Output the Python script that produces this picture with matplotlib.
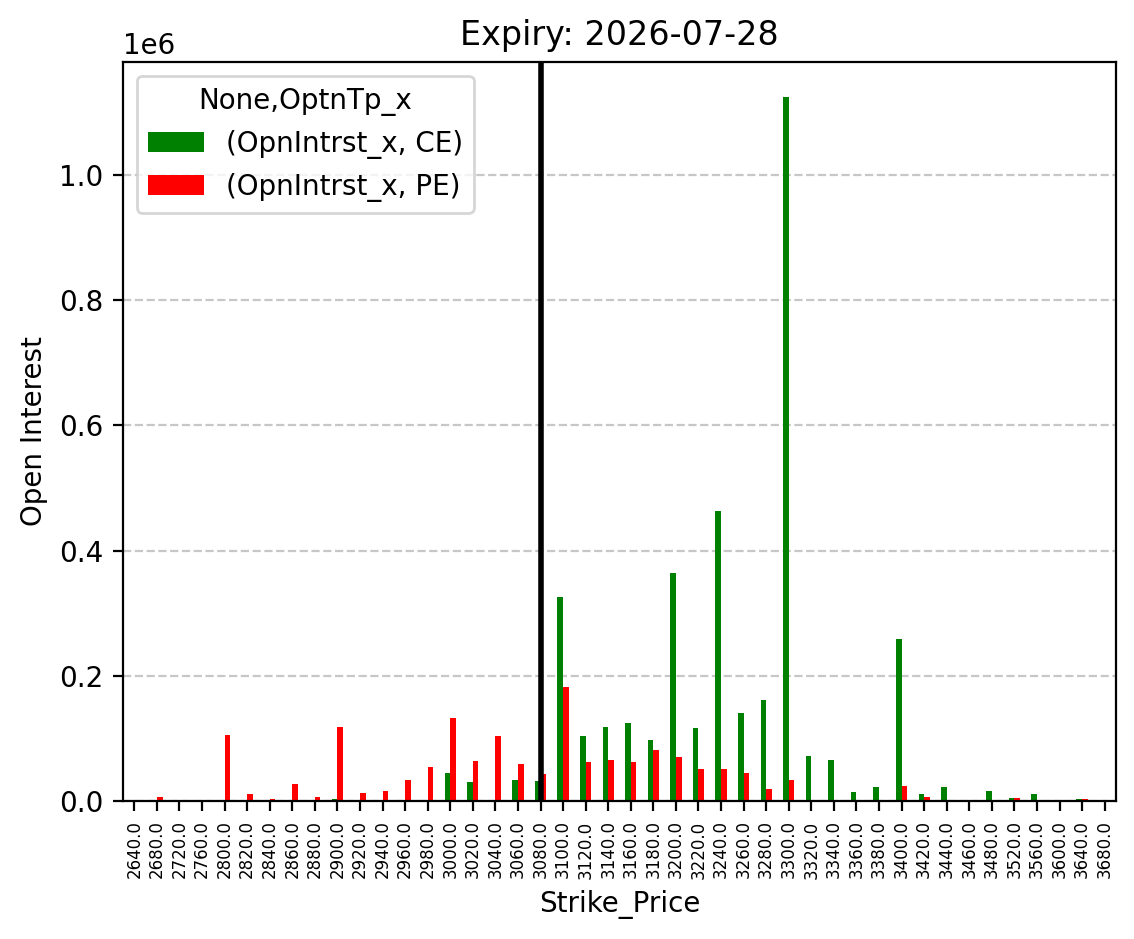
import matplotlib
matplotlib.use("Agg")
import matplotlib.pyplot as plt
import numpy as np

strikes = [2640, 2680, 2720, 2760, 2800, 2820, 2840, 2860, 2880, 2900, 2920, 2940,
           2960, 2980, 3000, 3020, 3040, 3060, 3080, 3100, 3120, 3140, 3160, 3180,
           3200, 3220, 3240, 3260, 3280, 3300, 3320, 3340, 3360, 3380, 3400, 3420,
           3440, 3460, 3480, 3520, 3560, 3600, 3640, 3680]

ce_oi = [0, 0, 0, 0, 0, 0, 0, 0, 0, 3000, 0, 0,
         0, 0, 45000, 30000, 0, 34000, 32000, 326000, 104000, 118000, 125000, 97000,
         364000, 117000, 463000, 141000, 161000, 1124000, 72000, 65000, 14000, 22000, 259000, 11000,
         22000, 0, 16000, 5000, 11000, 0, 3000, 0]

pe_oi = [0, 6000, 0, 0, 105000, 11000, 3000, 27000, 6000, 118000, 13000, 16000,
         34000, 54000, 132000, 64000, 104000, 59000, 43000, 182000, 62000, 65000, 62000, 81000,
         70000, 51000, 51000, 45000, 19000, 34000, 0, 0, 0, 0, 24000, 6000,
         0, 0, 0, 5000, 0, 0, 3000, 0]

spot_strike = 3080
labels = ["(OpnIntrst_x, CE)", "(OpnIntrst_x, PE)"]

fig = plt.figure(figsize=(5.67, 4.695), dpi=200)
ax = fig.add_axes([0.1085, 0.147, 0.8756, 0.787])

x = np.arange(len(strikes))
w = 0.25
ax.bar(x - w / 2, ce_oi, width=w, color="green", label=labels[0])
ax.bar(x + w / 2, pe_oi, width=w, color="red", label=labels[1])
ax.set_xlim(-0.5, len(strikes) - 0.5)
ax.set_xticks(x)
ax.set_xticklabels([f"{float(s):.1f}" for s in strikes], rotation=90, fontsize=6)

ax.axvline(strikes.index(spot_strike), color="black", linewidth=2)
ax.grid(axis="y", linestyle="--", alpha=0.7)
ax.set_axisbelow(True)

ax.set_title("Expiry: 2026-07-28", fontsize=12)
ax.set_xlabel("Strike_Price")
ax.set_ylabel("Open Interest")
ax.legend(title="None,OptnTp_x", loc="upper left")

fig.savefig("out.png", dpi=200)
